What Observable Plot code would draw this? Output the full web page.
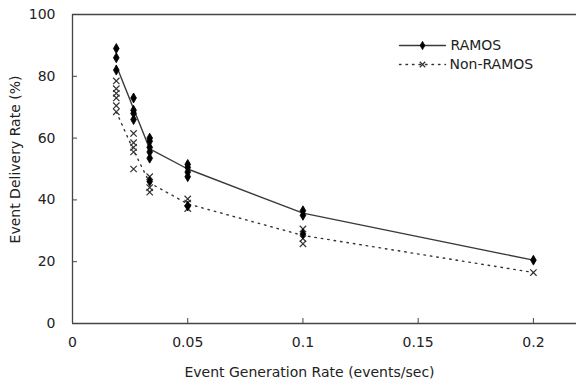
<!DOCTYPE html>
<html>
<head>
<meta charset="utf-8">
<script src="https://cdn.jsdelivr.net/npm/d3@7"></script>
<script src="https://cdn.jsdelivr.net/npm/@observablehq/plot@0.6"></script>
<style>
  html, body { margin: 0; padding: 0; background: #fff; }
  svg { font-family: "DejaVu Sans", sans-serif; }
</style>
</head>
<body>
<div id="chart"></div>
<script>
// Event generation rates (x groups)
const rates = [0.019, 0.0265, 0.0335, 0.05, 0.1, 0.2];

// Individual measurements (per group index)
const ramosPoints = [
  [89, 86, 82],
  [73, 69, 68, 66],
  [60, 59, 57, 55.5, 53.5, 46],
  [51.5, 50.5, 49, 47.5, 38],
  [36.5, 35, 29],
  [20.5]
];
const nonRamosPoints = [
  [78.5, 76, 74.5, 73, 70.5, 68.5],
  [61.5, 58.5, 57, 55.5, 50],
  [47.5, 44, 42.5],
  [40.3, 39, 37.2],
  [30.6, 27.5, 25.8],
  [16.5]
];

// Connecting line values per group
const ramosLine = [83.5, 69.5, 56.5, 50, 35.7, 20.5];
const nonRamosLine = [68.5, 56, 45.5, 38.7, 28.5, 16.5];

const xTicks = [0, 0.05, 0.1, 0.15, 0.2];
const xTickLabels = ["0", "0.05", "0.1", "0.15", "0.2"];
const yTicks = [0, 20, 40, 60, 80, 100];

const seriesNames = ["RAMOS", "Non-RAMOS"];
const xTitle = "Event Generation Rate (events/sec)";
const yTitle = "Event Delivery Rate (%)";

const flat = (pts) => pts.flatMap((vals, i) => vals.map(v => ({x: rates[i], y: v})));
const ramosData = flat(ramosPoints);
const nonRamosData = flat(nonRamosPoints);
const ramosLineData = rates.map((x, i) => ({x, y: ramosLine[i]}));
const nonRamosLineData = rates.map((x, i) => ({x, y: nonRamosLine[i]}));

const axisColor = "#444";
const lineShape = {draw(ctx, l) { ctx.moveTo(0, 0); ctx.lineTo(0, -l); }};

const chart = Plot.plot({
  width: 576,
  height: 381,
  marginLeft: 72,
  marginRight: 0,
  marginTop: 14,
  marginBottom: 58,
  style: {fontFamily: "DejaVu Sans, sans-serif", fontSize: "14px", color: "#000", background: "#fff"},
  x: {domain: [0, 0.2187]},
  y: {domain: [0, 100]},
  marks: [
    // frame lines: top, left, bottom
    Plot.ruleY([100], {stroke: axisColor, strokeWidth: 1.3}),
    Plot.ruleY([0], {stroke: axisColor, strokeWidth: 1.3}),
    Plot.ruleX([0], {stroke: axisColor, strokeWidth: 1.3}),
    // inward ticks
    Plot.axisX({ticks: xTicks, tickSize: -5, tickFormat: () => "", stroke: axisColor, label: null}),
    Plot.axisY({ticks: yTicks, tickSize: -5, tickFormat: () => "", stroke: axisColor, label: null}),
    // tick labels
    Plot.axisX({ticks: xTicks, tickSize: 0, tickPadding: 14, tickFormat: d => xTickLabels[xTicks.indexOf(d)], label: null, fill: "#222"}),
    Plot.axisY({ticks: yTicks, tickSize: 0, tickPadding: 17, label: null, fill: "#222"}),
    // axis titles
    Plot.text([xTitle], {frameAnchor: "bottom", dx: -15, dy: 49, textAnchor: "middle", lineAnchor: "middle", fill: "#222", fontSize: 14}),
    Plot.text([yTitle], {frameAnchor: "left", dx: -57, dy: -9.5, rotate: -90, textAnchor: "middle", lineAnchor: "middle", fill: "#222", fontSize: 14}),
    // series lines
    Plot.line(nonRamosLineData, {x: "x", y: "y", stroke: "#333", strokeWidth: 1.4, strokeDasharray: "1.5,5"}),
    Plot.line(ramosLineData, {x: "x", y: "y", stroke: "#3a3a3a", strokeWidth: 1.4}),
    // series points
    Plot.dot(nonRamosData, {x: "x", y: "y", symbol: "times", r: 3, stroke: "#333", strokeWidth: 1.2}),
    Plot.dot(ramosData, {x: "x", y: "y", symbol: "diamond", r: 3, fill: "#000", stroke: "#000", strokeWidth: 0.8}),
    // legend
    Plot.vector([0], {frameAnchor: "top-left", dx: 327, dy: 31, rotate: 90, length: 46, anchor: "start", shape: lineShape, stroke: "#3a3a3a", strokeWidth: 1.4}),
    Plot.dot([0], {frameAnchor: "top-left", dx: 350, dy: 31, symbol: "diamond", r: 2.6, fill: "#000", stroke: "#000", strokeWidth: 0.6}),
    Plot.text([seriesNames[0]], {frameAnchor: "top-left", dx: 378, dy: 31, textAnchor: "start", lineAnchor: "middle", fill: "#222", fontSize: 14}),
    Plot.vector([0], {frameAnchor: "top-left", dx: 327, dy: 50, rotate: 90, length: 46, anchor: "start", shape: lineShape, stroke: "#333", strokeWidth: 1.4, strokeDasharray: "1.5,5"}),
    Plot.dot([0], {frameAnchor: "top-left", dx: 350, dy: 50, symbol: "times", r: 2.6, stroke: "#333", strokeWidth: 1.2}),
    Plot.text([seriesNames[1]], {frameAnchor: "top-left", dx: 377, dy: 50, textAnchor: "start", lineAnchor: "middle", fill: "#222", fontSize: 14})
  ]
});
document.getElementById("chart").appendChild(chart);
</script>
</body>
</html>
